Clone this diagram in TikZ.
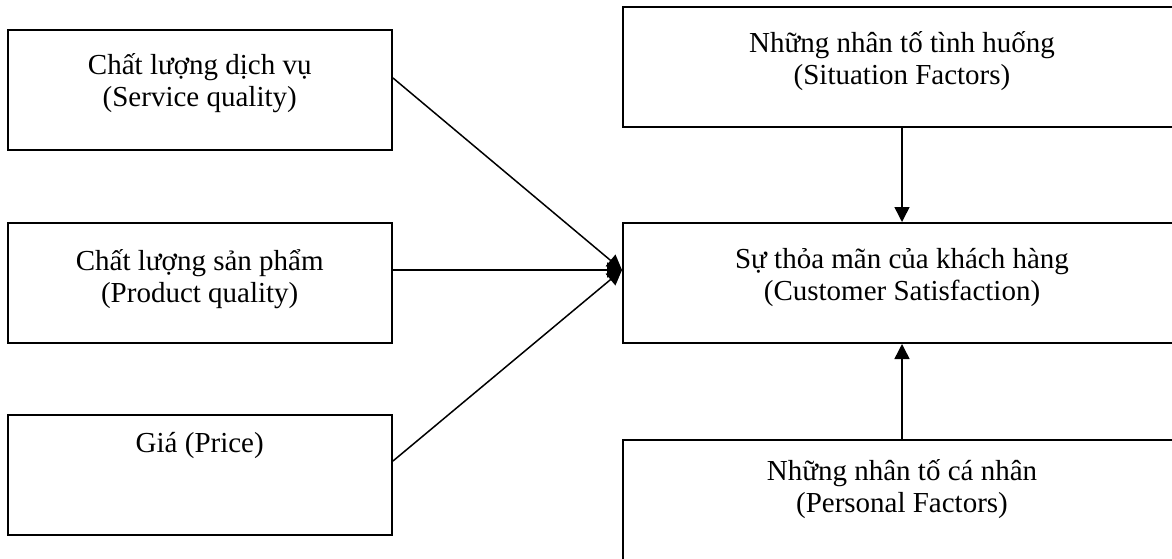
\documentclass[tikz,border=0pt]{standalone}
\usepackage{fontspec}
\setmainfont{Liberation Serif}
\usetikzlibrary{arrows.meta,calc}

\begin{document}
\begin{tikzpicture}[x=0.5pt,y=-0.5pt,
  box/.style={draw, line width=1pt, minimum width=192.25pt, minimum height=60pt, inner sep=0pt},
  wide/.style={box, minimum width=279pt},
  lbl/.style={anchor=base, align=center, inner sep=0pt, font=\fontsize{14.5pt}{16pt}\selectfont},
  link/.style={line width=0.75pt, -{Triangle[length=7.5pt,width=7.5pt]}}]

\useasboundingbox (0,0) rectangle (1172,558);
\clip (0,0) rectangle (1172,558);

% left column: the three drivers
\node[box] (b1) at (199.75,90) {};
\node[box] (b2) at (199.75,283) {};
\node[box] (b3) at (199.75,475) {};

% right column: situation, satisfaction, personal factors
\node[wide] (r1) at (902,67) {};
\node[wide] (r2) at (902,283) {};
\node[wide] (r3) at (902,500) {};

% captions (base anchor sits on the last line)
\node[lbl] (t1) at ($(b1.north)+(0,77)$) {Chất lượng dịch vụ\\(Service quality)};
\node[lbl] (t2) at ($(b2.north)+(0,80)$) {Chất lượng sản phẩm\\(Product quality)};
\node[lbl] (t3) at ($(b3.north)+(0,38)$) {Giá (Price)};
\node[lbl] (u1) at ($(r1.north)+(0,78)$) {Những nhân tố tình huống\\(Situation Factors)};
\node[lbl] (u2) at ($(r2.north)+(0,78)$) {Sự thỏa mãn của khách hàng\\(Customer Satisfaction)};
\node[lbl] (u3) at ($(r3.north)+(0,73)$) {Những nhân tố cá nhân\\(Personal Factors)};

% attachment points
\coordinate (s1) at ($(b1.north east)+(0,49)$);
\coordinate (s2) at ($(b2.north east)+(0,48)$);
\coordinate (s3) at ($(b3.north east)+(0,47)$);
\coordinate (hub) at ($(r2.north west)+(0,48)$);

% connectors
\draw[link] (s1) -- (hub);
\draw[link] (s2) -- (hub);
\draw[link] (s3) -- (hub);
\draw[link] (r1.south) -- (r2.north);
\draw[link] (r3.north) -- (r2.south);

\end{tikzpicture}
\end{document}
